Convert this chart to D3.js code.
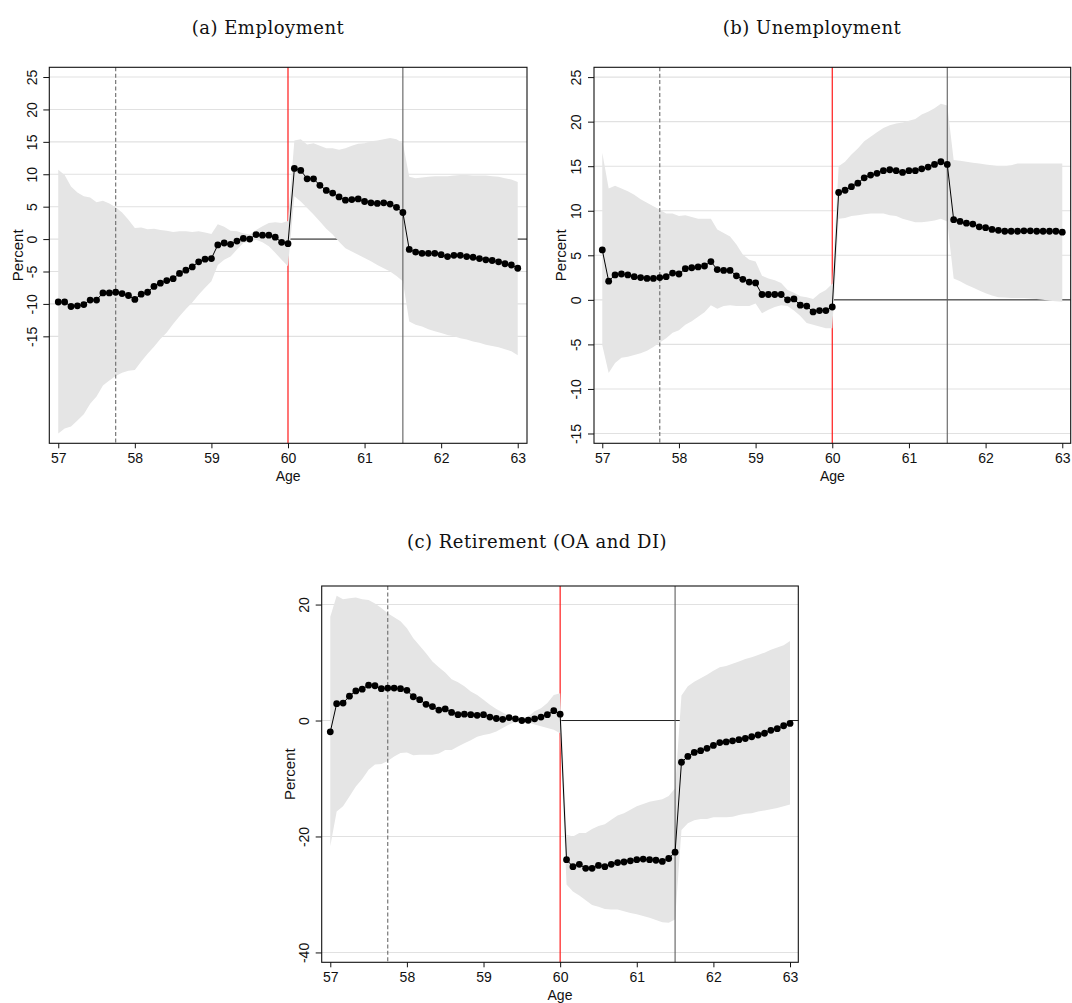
<!DOCTYPE html>
<html>
<head>
<meta charset="utf-8">
<script src="https://cdn.jsdelivr.net/npm/d3@7"></script>
<style>
  body { margin: 0; background: #fff; }
  svg { display: block; }
</style>
</head>
<body>
<svg id="fig" width="1072" height="1003"></svg>
<script>
// Monthly age grid, 57y0m .. 63y0m
const ages = d3.range(0, 73).map(m => 57 + m / 12);

const xTickValues = [57, 58, 59, 60, 61, 62, 63];
const empTickValues = [-15, -10, -5, 0, 5, 10, 15, 20, 25];
const unempTickValues = [-15, -10, -5, 0, 5, 10, 15, 20, 25];
const retTickValues = [-40, -20, 0, 20];

// Reference ages: announcement, early eligibility, later threshold
const announceAge = 57.75;
const eligibilityAge = 60;
const laterAge = 61.5;

// (a) Employment: point estimates and 95% band
const empEst = [
  -9.7, -9.7, -10.4, -10.3, -10.1, -9.4, -9.4, -8.3, -8.3, -8.2, -8.4, -8.7, -9.3,
  -8.5, -8.2, -7.3, -6.8, -6.4, -6.1, -5.3, -4.8, -4.3, -3.5, -3.1, -3.0,
  -0.9, -0.6, -0.8, -0.3, 0.1, 0.0, 0.7, 0.6, 0.6, 0.3, -0.5, -0.7,
  10.9, 10.6, 9.3, 9.3, 8.3, 7.5, 7.1, 6.5, 6.0, 6.1, 6.2, 5.8, 5.6, 5.5, 5.6, 5.4, 4.9, 4.1,
  -1.6, -2.0, -2.2, -2.2, -2.2, -2.4, -2.7, -2.5, -2.5, -2.7, -2.8, -3.0, -3.2, -3.3, -3.5, -3.8, -4.0, -4.5
];
const empHi = [
  10.7, 9.9, 8.1, 7.2, 6.6, 6.4, 5.7, 5.9, 5.5, 4.9, 4.1, 3.0, 1.7,
  1.8, 1.5, 1.6, 1.4, 1.3, 1.1, 1.2, 1.2, 1.1, 1.2, 1.0, 0.8,
  2.3, 1.9, 1.3, 1.2, 0.9, 0.7, 1.4, 2.0, 2.5, 2.6, 2.5, 2.8,
  15.2, 15.4, 14.6, 14.8, 14.4, 14.0, 14.0, 13.8, 14.0, 14.4, 14.7, 14.8, 15.1, 15.2, 15.4, 15.6, 15.4, 14.8,
  9.6, 9.4, 9.5, 9.6, 9.7, 9.7, 9.7, 9.8, 9.9, 9.9, 9.8, 9.8, 9.8, 9.7, 9.6, 9.4, 9.2, 8.8
];
const empLo = [
  -30.0, -29.2, -28.9, -28.0, -27.0, -25.4, -24.3, -22.6, -21.8, -21.1, -20.6, -20.3, -20.2,
  -18.9, -17.7, -16.6, -15.4, -14.4, -13.1, -11.9, -10.8, -9.8, -8.6, -7.5, -6.5,
  -4.0, -3.2, -2.7, -1.6, -0.6, -0.4, -0.1, -0.5, -1.1, -2.1, -3.2, -4.2,
  6.6, 5.8, 4.8, 3.8, 2.7, 1.6, 0.7, -0.4, -1.4, -1.9, -2.4, -2.9, -3.4, -4.0, -4.5, -5.0, -5.7, -6.5,
  -12.7, -13.2, -13.5, -13.9, -14.2, -14.5, -14.8, -15.0, -15.3, -15.5, -15.8, -16.0, -16.3, -16.5, -16.7, -17.0, -17.3, -17.9
];

// (b) Unemployment
const unempEst = [
  5.6, 2.1, 2.8, 2.9, 2.8, 2.6, 2.5, 2.4, 2.4, 2.5, 2.6, 3.0, 2.9,
  3.5, 3.6, 3.7, 3.8, 4.3, 3.4, 3.3, 3.3, 2.7, 2.3, 2.0, 1.9,
  0.6, 0.6, 0.6, 0.6, 0.0, 0.1, -0.6, -0.7, -1.35, -1.2, -1.2, -0.8,
  12.05, 12.3, 12.7, 13.1, 13.7, 14.0, 14.2, 14.5, 14.6, 14.5, 14.3, 14.5, 14.5, 14.7, 14.9, 15.2, 15.5, 15.2,
  9.0, 8.8, 8.6, 8.5, 8.2, 8.1, 7.9, 7.8, 7.7, 7.7, 7.7, 7.75, 7.75, 7.7, 7.7, 7.7, 7.7, 7.6
];
const unempHi = [
  16.5, 12.5, 12.8, 12.5, 12.2, 11.8, 11.3, 10.9, 10.5, 10.1, 9.7, 9.7, 9.4,
  9.5, 9.3, 9.1, 9.1, 9.1, 7.9, 7.5, 7.1, 6.2, 5.1, 4.5, 4.3,
  2.7, 2.4, 2.2, 1.9, 1.1, 0.8, 0.4, 0.3, 0.1, 0.7, 1.1, 1.8,
  15.0, 15.5, 16.3, 17.0, 17.8, 18.3, 18.8, 19.3, 19.6, 19.8, 19.9, 20.1, 20.3, 20.8, 21.1, 21.5, 22.0, 21.8,
  15.7, 15.6, 15.5, 15.4, 15.3, 15.2, 15.1, 15.0, 15.0, 15.1, 15.3, 15.3, 15.3, 15.3, 15.3, 15.3, 15.3, 15.3
];
const unempLo = [
  -5.1, -8.2, -7.1, -6.5, -6.4, -6.2, -6.0, -5.7, -5.3, -4.8, -4.3, -3.7, -3.4,
  -2.8, -2.4, -1.9, -1.4, -0.6, -1.0, -0.7, -0.6, -0.7, -0.7, -0.7, -0.4,
  -1.5, -1.1, -0.8, -0.6, -0.7, -1.2, -1.8, -2.6, -2.8, -3.0, -3.2, -3.2,
  9.1, 9.2, 9.4, 9.5, 9.6, 9.7, 9.7, 9.7, 9.5, 9.4, 9.1, 8.9, 8.7, 8.7, 8.8, 8.9, 9.1, 8.8,
  2.4, 2.1, 1.7, 1.4, 1.05, 0.75, 0.5, 0.3, 0.25, 0.2, 0.2, 0.2, 0.15, 0.1, 0.0, -0.1, -0.15, -0.2
];

// (c) Retirement (OA and DI)
const retEst = [
  -1.95, 2.9, 3.0, 4.2, 5.1, 5.4, 6.1, 6.0, 5.5, 5.6, 5.6, 5.5, 5.2,
  4.1, 3.6, 2.8, 2.4, 1.8, 2.0, 1.4, 1.0, 1.1, 1.0, 0.9, 1.0,
  0.6, 0.35, 0.2, 0.5, 0.3, 0.0, 0.05, 0.3, 0.6, 1.0, 1.7, 1.1,
  -24.0, -25.2, -24.8, -25.5, -25.5, -25.0, -25.2, -24.8, -24.5, -24.4, -24.2, -24.0, -23.9, -24.0, -24.1, -24.3, -23.8, -22.7,
  -7.2, -6.2, -5.5, -5.2, -4.8, -4.3, -3.8, -3.7, -3.5, -3.3, -3.1, -2.8, -2.5, -2.2, -1.7, -1.4, -0.9, -0.5
];
const retHi = [
  17.9, 21.5, 20.9, 21.1, 21.2, 20.9, 20.8, 20.2, 19.4, 18.5, 17.8, 17.1, 15.9,
  14.2, 12.9, 11.6, 10.2, 9.2, 8.3, 7.1, 6.6, 5.9, 5.0, 4.4, 3.6,
  2.7, 2.0, 1.4, 0.8, 0.2, 0.2, 0.7, 1.6, 2.1, 3.0, 4.4, 4.7,
  -19.7, -20.0, -19.4, -19.4, -18.7, -18.2, -17.9, -17.1, -16.4, -16.0, -15.4, -14.8, -14.4, -14.0, -13.8, -13.6, -13.0, -11.7,
  4.3, 5.9, 6.7, 7.3, 7.9, 8.6, 9.2, 9.4, 9.8, 10.2, 10.6, 10.9, 11.3, 11.7, 12.2, 12.6, 13.0, 13.7
];
const retLo = [
  -21.7, -15.7, -14.8, -13.1, -11.4, -10.1, -8.5, -7.6, -7.5, -7.0, -6.2, -5.6, -5.5,
  -6.0, -5.9, -5.9, -5.9, -5.7, -5.1, -5.1, -4.5, -3.9, -3.4, -2.8, -2.5,
  -2.3, -1.9, -1.3, -0.7, -0.2, 0.0, -0.3, -0.7, -1.0, -1.3, -1.6, -2.2,
  -28.3, -29.5, -30.2, -31.0, -31.8, -32.1, -32.5, -32.6, -32.6, -32.9, -33.2, -33.4, -33.7, -34.0, -34.4, -34.8, -34.9, -34.3,
  -18.9, -17.7, -17.2, -17.0, -17.0, -16.7, -16.7, -16.7, -16.6, -16.3, -16.1, -16.0, -15.7, -15.5, -15.3, -15.1, -14.8, -14.5
];

const svg = d3.select("#fig");
svg.append("rect").attr("width", 1072).attr("height", 1003).attr("fill", "#fff");

const SANS = "'Liberation Sans', Arial, Helvetica, sans-serif";
const SERIF = "'DejaVu Serif', 'Liberation Serif', serif";
const plainInt = d => String(d);   // ASCII hyphen for negatives

function drawPanel(p) {
  const g = svg.append("g");
  const x = d3.scaleLinear().domain(p.xDomain).range([p.left, p.right]);
  const y = d3.scaleLinear().domain(p.yDomain).range([p.bottom, p.top]);
  const rows = ages.map((a, i) => ({ age: a, est: p.est[i], lo: p.lo[i], hi: p.hi[i] }));

  // title
  g.append("text")
    .attr("x", p.titleX).attr("y", p.titleY)
    .attr("text-anchor", "middle")
    .attr("font-family", SERIF).attr("font-size", 18)
    .attr("letter-spacing", 0.5)
    .attr("fill", "#111")
    .text(p.title);

  // horizontal grid
  g.append("g").selectAll("line").data(p.yTicks).join("line")
    .attr("x1", p.left).attr("x2", p.right)
    .attr("y1", d => y(d)).attr("y2", d => y(d))
    .attr("stroke", "#e1e1e1").attr("stroke-width", 1.1);

  // zero reference after eligibility
  g.append("line")
    .attr("x1", x(eligibilityAge)).attr("x2", p.right)
    .attr("y1", y(0)).attr("y2", y(0))
    .attr("stroke", "#222").attr("stroke-width", 1);

  // eligibility age marker
  g.append("line")
    .attr("x1", x(eligibilityAge)).attr("x2", x(eligibilityAge))
    .attr("y1", p.top).attr("y2", p.bottom)
    .attr("stroke", "#ff1a1a").attr("stroke-width", 1.2);

  // confidence band
  g.append("path").datum(rows)
    .attr("fill", "#e5e5e5")
    .attr("d", d3.area().x(d => x(d.age)).y0(d => y(d.lo)).y1(d => y(d.hi)));

  // announcement (dashed) and later threshold
  g.append("line")
    .attr("x1", x(announceAge)).attr("x2", x(announceAge))
    .attr("y1", p.top).attr("y2", p.bottom)
    .attr("stroke", "#6a6a6a").attr("stroke-width", 1.1)
    .attr("stroke-dasharray", "4,2.4");
  g.append("line")
    .attr("x1", x(laterAge)).attr("x2", x(laterAge))
    .attr("y1", p.top).attr("y2", p.bottom)
    .attr("stroke", "#5f5f5f").attr("stroke-width", 1.1);

  // estimates
  g.append("path").datum(rows)
    .attr("fill", "none").attr("stroke", "#000").attr("stroke-width", 1)
    .attr("d", d3.line().x(d => x(d.age)).y(d => y(d.est)));
  g.append("g").selectAll("circle").data(rows).join("circle")
    .attr("cx", d => x(d.age)).attr("cy", d => y(d.est))
    .attr("r", 3.4).attr("fill", "#000");

  // frame
  g.append("rect")
    .attr("x", p.left).attr("y", p.top)
    .attr("width", p.right - p.left).attr("height", p.bottom - p.top)
    .attr("fill", "none").attr("stroke", "#111").attr("stroke-width", 1.1);

  // x axis
  const xa = g.append("g").attr("transform", `translate(0,${p.bottom})`)
    .call(d3.axisBottom(x).tickValues(xTickValues).tickSize(5).tickFormat(plainInt));
  xa.select(".domain").remove();
  xa.selectAll(".tick line").attr("stroke", "#111");
  xa.selectAll(".tick text")
    .attr("font-family", SANS).attr("font-size", 14).attr("fill", "#111")
    .attr("dy", null).attr("y", 20);

  // y axis with rotated labels
  const ya = g.append("g").attr("transform", `translate(${p.left},0)`)
    .call(d3.axisLeft(y).tickValues(p.yTicks).tickSize(6).tickFormat(plainInt));
  ya.select(".domain").remove();
  ya.selectAll(".tick line").attr("stroke", "#111");
  ya.selectAll(".tick text")
    .attr("font-family", SANS).attr("font-size", 14).attr("fill", "#111")
    .attr("x", null).attr("dy", null)
    .attr("text-anchor", "middle")
    .attr("transform", `translate(${-p.labelGap},0) rotate(-90)`);

  // axis titles
  g.append("text")
    .attr("transform", `translate(${p.left - p.titleGap},${(p.top + p.bottom) / 2}) rotate(-90)`)
    .attr("text-anchor", "middle")
    .attr("font-family", SANS).attr("font-size", 15).attr("fill", "#111")
    .text("Percent");
  g.append("text")
    .attr("x", (p.left + p.right) / 2).attr("y", p.bottom + 38)
    .attr("text-anchor", "middle")
    .attr("font-family", SANS).attr("font-size", 14).attr("fill", "#111")
    .text("Age");
}

drawPanel({
  title: "(a) Employment", titleX: 268, titleY: 34,
  left: 49.3, right: 527, top: 67.3, bottom: 443.3,
  xDomain: [56.883, 63.121], yDomain: [-31.5, 26.5],
  yTicks: empTickValues, labelGap: 12, titleGap: 26,
  est: empEst, lo: empLo, hi: empHi
});

drawPanel({
  title: "(b) Unemployment", titleX: 812, titleY: 34,
  left: 594, right: 1070.7, top: 67.3, bottom: 443.3,
  xDomain: [56.892, 63.11], yDomain: [-16.1, 26.1],
  yTicks: unempTickValues, labelGap: 13.5, titleGap: 28,
  est: unempEst, lo: unempLo, hi: unempHi
});

drawPanel({
  title: "(c) Retirement (OA and DI)", titleX: 537, titleY: 548,
  left: 321.7, right: 798.3, top: 586, bottom: 962.3,
  xDomain: [56.888, 63.108], yDomain: [-41.7, 23.2],
  yTicks: retTickValues, labelGap: 12.4, titleGap: 26.7,
  est: retEst, lo: retLo, hi: retHi
});
</script>
</body>
</html>
